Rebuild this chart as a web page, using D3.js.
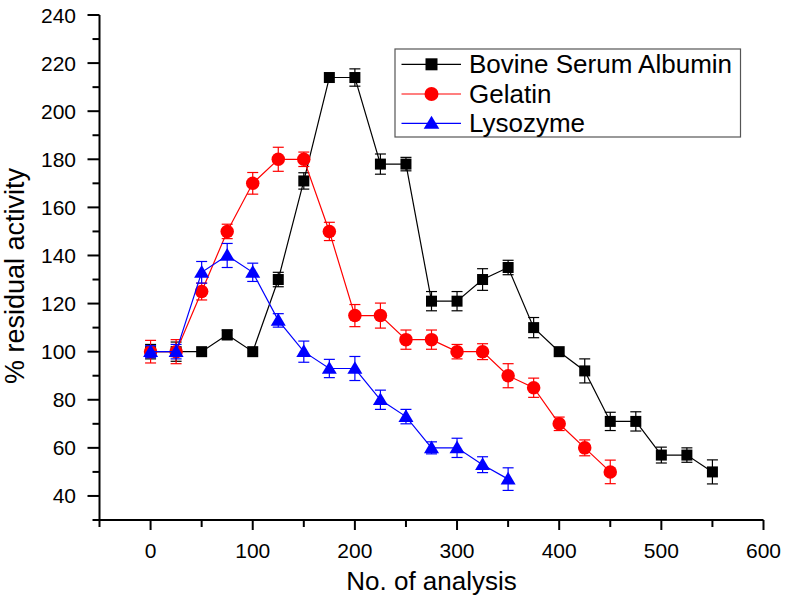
<!DOCTYPE html>
<html><head><meta charset="utf-8">
<script src="https://cdn.jsdelivr.net/npm/d3@7"></script>
<style>body{margin:0;background:#fff}svg{display:block;font-family:"Liberation Sans",Arial,sans-serif}</style>
</head><body>
<script>
const bsaX = [0,25,50,75,100,125,150,175,200,225,250,275,300,325,350,375,400,425,450,475,500,525,550];
const bsaY = [100,100,100,107,100,130,171,214,214,178,178,121,121,130,135,110,100,92,71,71,57,57,50];
const bsaErr = [3,4,0,2,0,3,3.4,0,3.6,4.2,2.8,4,4,4.5,3,4.2,0,5,3.8,4,3.3,3,5];
const gelX = [0,25,50,75,100,125,150,175,200,225,250,275,300,325,350,375,400,425,450];
const gelY = [100,100,125,150,170,180,180,150,115,115,105,105,100,100,90,85,70,60,50];
const gelErr = [4.7,5,3.5,3,4.5,5,3,3.8,4.6,5.2,4,4,3,3.3,5,4,2.8,3.3,4.9];
const lysX = [0,25,50,75,100,125,150,175,200,225,250,275,300,325,350];
const lysY = [100,100,133,140,133,113,100,93,93,80,73,60,60,53,47];
const lysErr = [2.5,3,4.5,5,3.8,2.8,4.4,3.8,5,4,3,2.5,4,3.3,4.7];
const xTicks = [0,100,200,300,400,500,600];
const yTicks = [40,60,80,100,120,140,160,180,200,220,240];
const seriesNames = ["Bovine Serum Albumin","Gelatin","Lysozyme"];
const seriesColors = ["#000000","#ff0000","#0000ff"];

const W = 786, H = 600;
const svg = d3.select("body").append("svg").attr("width", W).attr("height", H);
const x = d3.scaleLinear().domain([-50, 600]).range([99.5, 763.5]);
const y = d3.scaleLinear().domain([30, 240]).range([520, 15]);

// axes
const xAxis = svg.append("g").attr("transform", "translate(0,520)");
xAxis.append("line").attr("x1", x(-50)).attr("x2", x(600)).attr("stroke", "#000").attr("stroke-width", 2);
const xMinor = d3.range(-50, 601, 50);
xAxis.selectAll("line.t").data(xMinor).join("line").attr("class","t")
  .attr("x1", d => x(d)).attr("x2", d => x(d)).attr("y1", 0)
  .attr("y2", d => xTicks.includes(d) ? 10 : 7).attr("stroke", "#000").attr("stroke-width", 2);
xAxis.selectAll("text").data(xTicks).join("text")
  .attr("x", d => x(d)).attr("y", 38).attr("text-anchor", "middle")
  .attr("font-size", 21).text(d => d);

const yAxis = svg.append("g").attr("transform", "translate(99.5,0)");
yAxis.append("line").attr("y1", y(30)).attr("y2", y(240)).attr("stroke", "#000").attr("stroke-width", 2);
const yMinor = d3.range(30, 241, 10);
yAxis.selectAll("line.t").data(yMinor).join("line").attr("class","t")
  .attr("y1", d => y(d)).attr("y2", d => y(d)).attr("x1", 0)
  .attr("x2", d => yTicks.includes(d) ? -12 : -7).attr("stroke", "#000").attr("stroke-width", 2);
yAxis.selectAll("text").data(yTicks).join("text")
  .attr("x", -23.5).attr("y", d => y(d) + 7.5).attr("text-anchor", "end")
  .attr("font-size", 21).text(d => d);

svg.append("text").attr("x", 431.5).attr("y", 590).attr("text-anchor", "middle")
  .attr("font-size", 26).text("No. of analysis");
svg.append("text").attr("transform", "translate(24,276) rotate(-90)").attr("text-anchor", "middle")
  .attr("font-size", 27).text("% residual activity");

function marker(g, type, color, cx, cy, s) {
  if (type === 0) g.append("rect").attr("x", cx - s/2).attr("y", cy - s/2).attr("width", s).attr("height", s).attr("fill", color);
  else if (type === 1) g.append("circle").attr("cx", cx).attr("cy", cy).attr("r", s/2 + 0.5).attr("fill", color);
  else {
    const h = s * 0.95, w = s * 1.2;
    g.append("path").attr("d", `M${cx},${cy - h*0.62}L${cx + w/2},${cy + h*0.45}L${cx - w/2},${cy + h*0.45}Z`).attr("fill", color);
  }
}

const data = [[bsaX,bsaY,bsaErr],[gelX,gelY,gelErr],[lysX,lysY,lysErr]];
data.forEach(([xs, ys, es], si) => {
  const color = seriesColors[si];
  const pts = xs.map((v, i) => ({x: v, y: ys[i], e: es[i]}));
  const g = svg.append("g");
  g.append("path").datum(pts).attr("fill", "none").attr("stroke", color).attr("stroke-width", 1.2)
    .attr("d", d3.line().x(d => x(d.x)).y(d => y(d.y)));
  pts.forEach(p => {
    if (p.e > 0) {
      const cx = x(p.x), y1 = y(p.y + p.e), y2 = y(p.y - p.e);
      g.append("line").attr("x1", cx).attr("x2", cx).attr("y1", y1).attr("y2", y2).attr("stroke", color).attr("stroke-width", 1.2);
      [y1, y2].forEach(yy => g.append("line").attr("x1", cx - 5.5).attr("x2", cx + 5.5).attr("y1", yy).attr("y2", yy).attr("stroke", color).attr("stroke-width", 1.2));
    }
  });
  pts.forEach(p => marker(g, si, color, x(p.x), y(p.y), si === 0 ? 11 : 12.5));
});

// legend
const lg = svg.append("g");
lg.append("rect").attr("x", 395).attr("y", 49).attr("width", 345.5).attr("height", 88)
  .attr("fill", "#fff").attr("stroke", "#555").attr("stroke-width", 1.2);
const rowY = [64.3, 94, 123.3];
seriesNames.forEach((n, i) => {
  lg.append("line").attr("x1", 401.5).attr("x2", 461).attr("y1", rowY[i]).attr("y2", rowY[i])
    .attr("stroke", seriesColors[i]).attr("stroke-width", 1.2);
  marker(lg, i, seriesColors[i], 431.5, rowY[i], i === 0 ? 12 : 13);
  lg.append("text").attr("x", 469).attr("y", rowY[i] + 9).attr("font-size", 26).text(n);
});
</script>
</body></html>
